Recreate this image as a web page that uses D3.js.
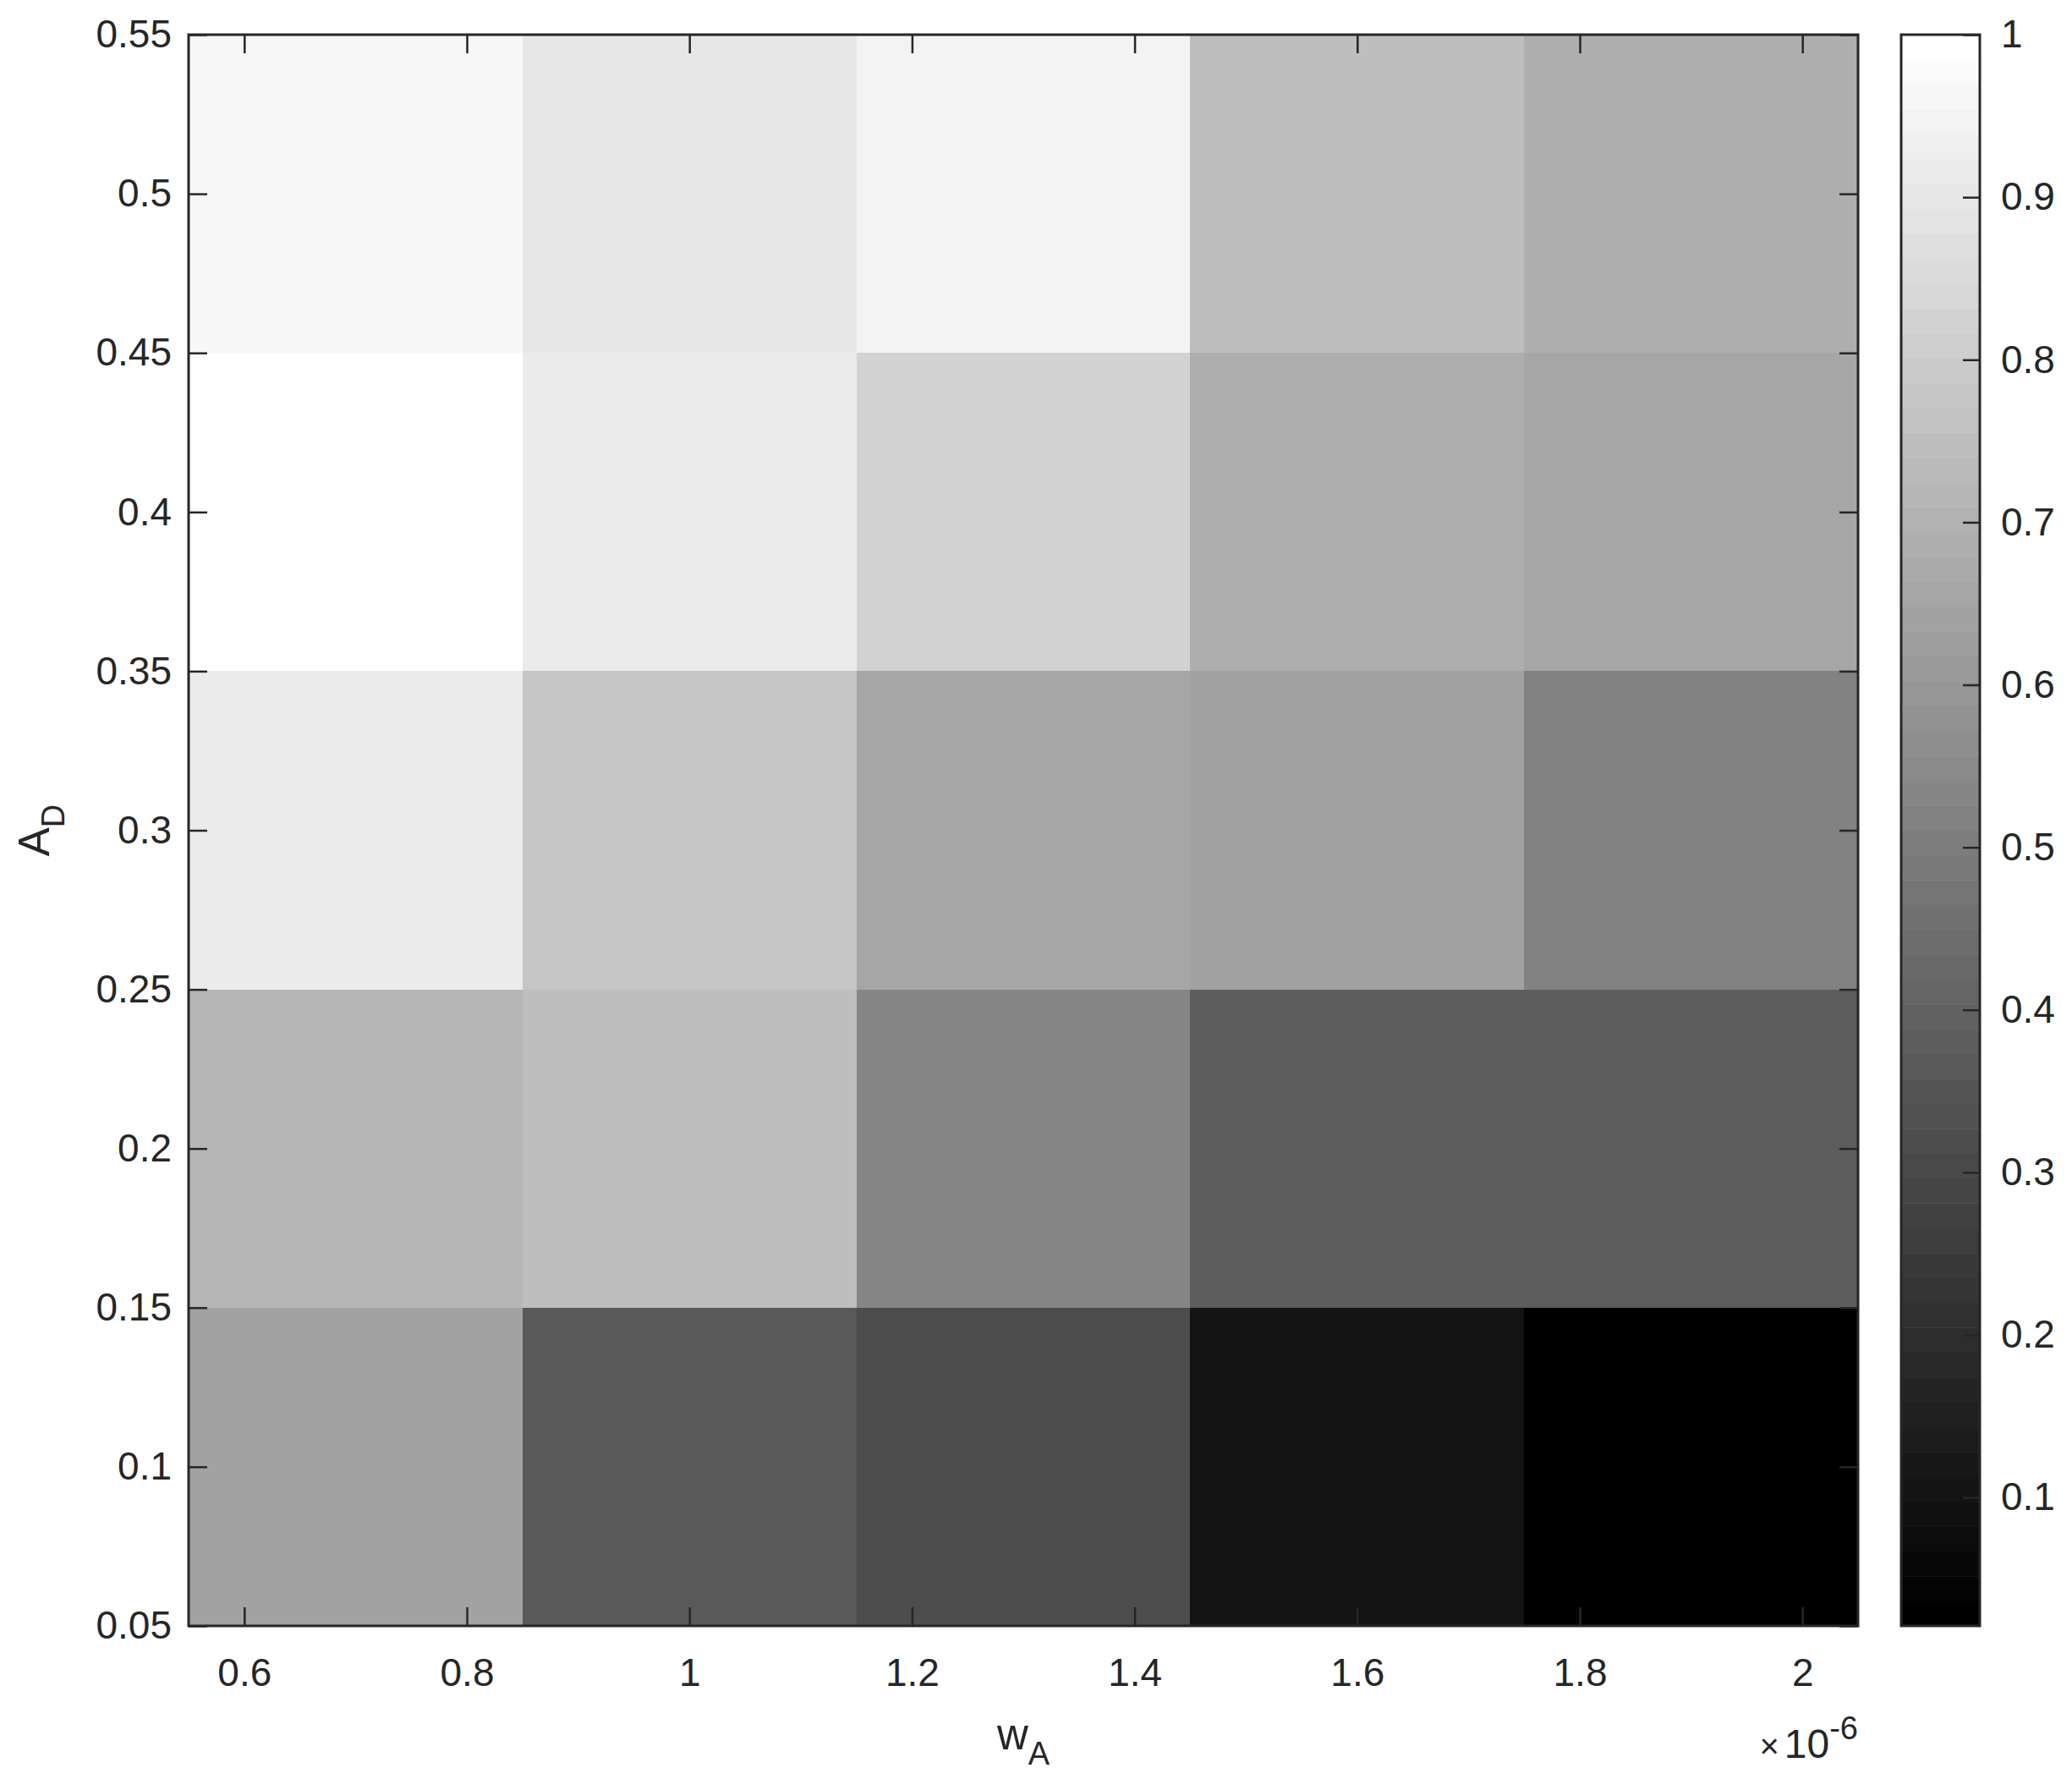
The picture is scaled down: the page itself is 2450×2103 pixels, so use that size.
<!DOCTYPE html>
<html><head><meta charset="utf-8">
<script src="https://cdn.jsdelivr.net/npm/d3@7"></script>
<style>body{margin:0;background:#fff}text{font-family:"Liberation Sans",Arial,Helvetica,sans-serif;fill:#262626}</style>
</head><body>
<script>
// Data
const wA = [0.7, 1.0, 1.3, 1.6, 1.9];           // x cell centers (×1e-6)
const AD = [0.1, 0.2, 0.3, 0.4, 0.5];           // y cell centers
const row_AD_0_1 = [0.641, 0.358, 0.319, 0.105, 0.021];
const row_AD_0_2 = [0.717, 0.748, 0.533, 0.381, 0.381];
const row_AD_0_3 = [0.916, 0.778, 0.655, 0.633, 0.518];
const row_AD_0_4 = [1.000, 0.916, 0.825, 0.690, 0.655];
const row_AD_0_5 = [0.962, 0.901, 0.947, 0.748, 0.686];
const values = [row_AD_0_1, row_AD_0_2, row_AD_0_3, row_AD_0_4, row_AD_0_5];
const xTicks = [0.6, 0.8, 1, 1.2, 1.4, 1.6, 1.8, 2];
const yTicks = [0.05, 0.1, 0.15, 0.2, 0.25, 0.3, 0.35, 0.4, 0.45, 0.5, 0.55];
const cTicks = [0.1, 0.2, 0.3, 0.4, 0.5, 0.6, 0.7, 0.8, 0.9, 1];
const cLim = [0.021, 1.0];
const nLevels = 64;

const W = 2450, H = 2103;
const L = 223, R = 2197, T = 41, B = 1922;
const CBL = 2248, CBR = 2341;
const dx = 0.3, dy = 0.1;

const svg = d3.select("body").append("svg").attr("width", W).attr("height", H);

const x = d3.scaleLinear().domain([0.55, 2.05]).range([L, R]);
const y = d3.scaleLinear().domain([0.05, 0.55]).range([B, T]);
const c = d3.scaleLinear().domain(cLim).range([B, T]);

function grayOf(v) {
  let idx = Math.floor((v - cLim[0]) / (cLim[1] - cLim[0]) * nLevels);
  idx = Math.max(0, Math.min(nLevels - 1, idx));
  const g = Math.round(idx / (nLevels - 1) * 255);
  return `rgb(${g},${g},${g})`;
}

const cells = [];
values.forEach((row, i) => row.forEach((v, j) => cells.push({xv: wA[j], yv: AD[i], v})));

svg.append("g").selectAll("rect").data(cells).join("rect")
  .attr("x", d => x(d.xv - dx / 2))
  .attr("y", d => y(d.yv + dy / 2))
  .attr("width", d => x(d.xv + dx / 2) - x(d.xv - dx / 2))
  .attr("height", d => y(d.yv - dy / 2) - y(d.yv + dy / 2))
  .attr("fill", d => grayOf(d.v))
  .attr("shape-rendering", "crispEdges");

function styleAxis(g) {
  g.selectAll("line").attr("stroke", "#262626").attr("stroke-width", 2.5);
  g.selectAll("path.domain").remove();
  g.selectAll("text").style("font-size", "46px").attr("fill", "#262626")
   .style("font-family", '"Liberation Sans",Arial,Helvetica,sans-serif');
}

svg.append("g").attr("transform", `translate(0,${B})`)
  .call(d3.axisBottom(x).tickValues(xTicks).tickFormat(d3.format("~g")).tickSize(-22).tickPadding(38).tickSizeOuter(0))
  .call(styleAxis);
svg.append("g").attr("transform", `translate(0,${T})`)
  .call(d3.axisTop(x).tickValues(xTicks).tickFormat("").tickSize(-22).tickSizeOuter(0))
  .call(styleAxis);
svg.append("g").attr("transform", `translate(${L},0)`)
  .call(d3.axisLeft(y).tickValues(yTicks).tickFormat(d3.format("~g")).tickSize(-22).tickPadding(20).tickSizeOuter(0))
  .call(styleAxis);
svg.append("g").attr("transform", `translate(${R},0)`)
  .call(d3.axisRight(y).tickValues(yTicks).tickFormat("").tickSize(-22).tickSizeOuter(0))
  .call(styleAxis);

svg.append("rect").attr("x", L).attr("y", T).attr("width", R - L).attr("height", B - T)
  .attr("fill", "none").attr("stroke", "#262626").attr("stroke-width", 3);

// Colorbar
const bands = d3.range(nLevels).map(i => ({
  lo: cLim[0] + i * (cLim[1] - cLim[0]) / nLevels,
  hi: cLim[0] + (i + 1) * (cLim[1] - cLim[0]) / nLevels,
  g: Math.round(i / (nLevels - 1) * 255)
}));
svg.append("g").selectAll("rect").data(bands).join("rect")
  .attr("x", CBL).attr("width", CBR - CBL)
  .attr("y", d => c(d.hi)).attr("height", d => c(d.lo) - c(d.hi) + 0.5)
  .attr("fill", d => `rgb(${d.g},${d.g},${d.g})`);
svg.append("g").attr("transform", `translate(${CBR},0)`)
  .call(d3.axisRight(c).tickValues(cTicks).tickFormat(d3.format("~g")).tickSize(-20).tickPadding(25).tickSizeOuter(0))
  .call(styleAxis);
svg.append("rect").attr("x", CBL).attr("y", T).attr("width", CBR - CBL).attr("height", B - T)
  .attr("fill", "none").attr("stroke", "#262626").attr("stroke-width", 3);

// Axis labels
const xl = svg.append("text").attr("x", (L + R) / 2).attr("y", 2068).attr("text-anchor", "middle")
  .style("font-size", "51px");
xl.append("tspan").text("w");
xl.append("tspan").attr("dy", 18).style("font-size", "38px").text("A");

const yl = svg.append("text").attr("transform", `translate(58,${(T + B) / 2}) rotate(-90)`)
  .attr("text-anchor", "middle").style("font-size", "51px");
yl.append("tspan").text("A");
yl.append("tspan").attr("dy", 18).style("font-size", "38px").text("D");

// Exponent
const ex = svg.append("text").attr("x", R).attr("y", 2078).attr("text-anchor", "end").style("font-size", "48px");
ex.append("tspan").style("font-size", "40px").text("×");
ex.append("tspan").attr("dx", 6).text("10");
ex.append("tspan").attr("dy", -22).style("font-size", "38px").text("-6");
</script>
</body></html>
